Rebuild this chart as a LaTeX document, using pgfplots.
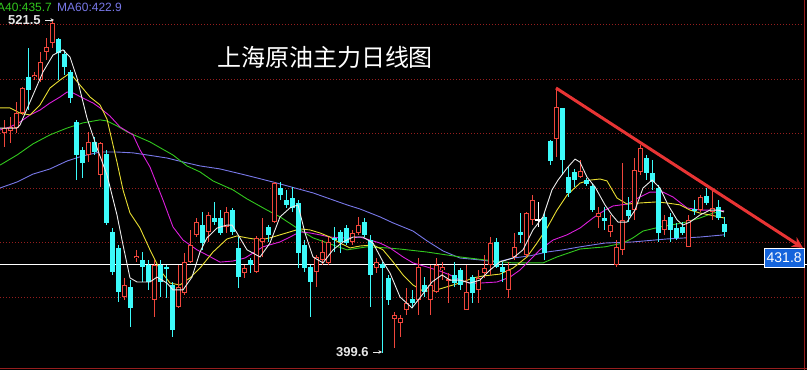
\documentclass[border=0pt]{standalone}
\usepackage{pgfplots}
\pgfplotsset{compat=1.18}
\usepackage{pgfplotstable}
\usetikzlibrary{arrows.meta}
\usepackage{fontspec}
\setmainfont{Liberation Sans}
\newfontfamily\cjk{Noto Sans CJK SC}
\definecolor{upred}{RGB}{240,70,60}
\definecolor{dncyan}{RGB}{60,250,250}
\definecolor{trendred}{RGB}{232,52,52}
\definecolor{mawhite}{RGB}{235,235,235}
\definecolor{mayellow}{RGB}{232,222,50}
\definecolor{mamag}{RGB}{220,30,220}
\definecolor{magreen}{RGB}{50,200,30}
\definecolor{mablue}{RGB}{120,120,232}
\definecolor{gridred}{RGB}{150,30,30}
\definecolor{boxblue}{RGB}{20,100,220}
\definecolor{lblgray}{RGB}{230,230,230}

% up (red, hollow) candles: index, open, high, low, close
\pgfplotstableread{
i o h l c
0 480.2 485.0 475.1 482.0
1 480.9 486.1 476.5 482.4
2 482.0 491.6 480.2 487.5
3 487.5 497.1 486.8 496.7
5 500.7 502.6 499.6 501.5
6 499.6 509.9 498.9 506.2
7 509.9 515.1 507.0 511.7
8 513.2 521.5 511.4 520.6
14 472.1 480.6 469.5 476.9
16 464.8 476.9 460.4 476.5
20 420.0 427.0 418.9 424.4
22 434.3 437.3 432.9 435.1
25 418.9 433.6 412.7 431.7
29 416.3 431.7 416.0 423.7
30 421.5 436.1 420.7 432.8
31 432.8 444.6 432.5 439.1
32 442.8 449.0 442.0 447.5
34 443.9 451.2 440.2 450.1
37 445.7 453.0 443.5 451.2
40 428.8 431.7 427.0 430.6
42 429.2 442.4 428.8 441.7
43 440.2 449.0 434.7 441.7
45 447.5 462.2 447.2 461.8
52 429.2 435.4 423.7 434.7
53 433.6 440.9 431.7 436.5
54 432.5 442.0 431.7 440.2
58 440.2 444.6 439.1 443.5
59 443.5 449.4 442.8 446.4
62 430.6 434.3 428.8 432.8
65 411.9 414.5 401.3 413.4
66 410.5 413.4 405.3 412.3
67 415.2 423.3 413.4 417.8
69 418.9 434.3 413.4 431.0
71 418.9 431.7 413.4 424.4
72 421.8 434.3 421.5 431.7
73 429.9 432.8 426.2 431.0
74 426.2 428.8 417.8 426.6
77 415.2 431.7 415.2 421.8
79 422.6 429.9 417.8 427.0
80 428.8 435.4 427.0 430.6
81 431.7 442.0 428.1 439.8
84 422.6 432.8 419.6 429.9
85 434.7 443.5 433.6 438.4
87 435.4 451.2 434.7 450.8
88 448.3 457.4 446.4 455.6
92 478.0 496.7 471.4 489.7
96 464.0 470.3 463.7 466.2
99 449.4 453.0 445.3 450.8
101 443.9 450.1 442.0 446.4
102 431.7 440.9 431.0 438.4
103 437.3 469.2 435.4 448.3
105 451.9 471.0 448.3 466.6
106 465.9 475.8 464.8 474.7
110 444.6 450.1 442.8 448.3
114 438.4 450.1 438.4 448.3
116 451.9 457.4 451.2 456.7
118 451.2 459.3 448.3 452.7
}\upcandles

% down (cyan, filled) candles
\pgfplotstableread{
i o h l c
4 500.7 511.4 488.6 496.0
9 514.7 515.1 499.6 509.5
10 509.2 510.7 501.5 504.4
11 502.6 503.3 491.2 493.0
12 484.2 485.0 462.9 472.1
13 474.0 475.1 463.7 469.2
15 476.9 478.7 472.1 473.2
17 472.5 474.0 446.4 447.2
18 443.9 445.3 428.1 429.2
19 438.0 439.1 418.2 421.8
21 423.7 426.2 409.0 416.0
23 433.6 436.5 425.5 431.0
24 431.7 433.6 422.6 425.5
26 431.7 433.6 420.0 425.5
27 431.0 431.7 419.6 430.3
28 424.4 425.5 405.3 407.9
33 446.4 451.2 437.3 439.8
35 449.0 454.9 446.4 447.5
36 449.0 451.9 442.8 443.5
38 451.9 452.7 442.8 443.9
39 438.0 442.0 423.3 427.3
41 433.6 434.3 428.8 431.7
44 445.7 446.4 440.2 442.8
46 460.0 462.2 455.6 457.4
47 455.6 459.3 452.7 453.8
48 456.3 460.4 451.2 452.7
49 454.5 455.6 430.6 436.1
50 439.1 440.9 429.2 430.6
51 431.0 431.7 412.7 425.5
55 441.7 445.7 436.5 440.9
56 443.9 444.6 436.1 440.2
57 445.3 446.4 439.1 439.8
60 447.5 449.0 442.0 442.8
61 440.9 442.8 416.3 428.1
63 432.1 432.8 399.6 430.6
64 427.0 428.1 417.1 418.9
68 419.3 422.6 416.0 417.8
70 424.4 427.3 420.0 421.8
75 428.1 432.8 423.7 425.1
76 429.9 430.6 422.6 424.4
78 427.3 428.1 417.8 421.5
82 440.2 441.7 430.6 431.0
83 431.0 432.8 425.5 429.2
86 443.9 450.8 439.8 442.8
90 449.4 450.8 433.6 436.1
91 477.3 477.6 468.4 469.9
93 489.4 489.4 464.8 470.3
94 464.0 467.7 456.7 458.2
95 465.9 467.0 460.4 462.9
97 462.9 463.7 460.7 461.5
98 460.7 461.5 451.2 451.9
100 449.0 453.0 444.6 447.9
104 451.9 456.7 447.5 449.7
107 471.0 472.1 462.9 465.5
108 465.5 470.3 459.3 462.2
109 460.0 461.1 440.2 443.5
111 449.4 450.8 440.2 444.6
112 445.3 447.2 440.9 441.7
113 445.7 447.5 442.8 443.5
115 452.3 455.6 450.1 451.6
117 457.1 460.0 453.8 454.5
119 453.0 455.6 448.3 449.0
120 446.8 449.4 442.0 443.9
}\dncandles

% doji
\pgfplotstableread{
i o h l c
89 448.3 454.9 445.7 448.3
}\dojicandles

\begin{document}
\begin{tikzpicture}
\useasboundingbox (0,0) rectangle (807pt,370pt);
\fill[black] (0,0) rectangle (807pt,370pt);
\begin{axis}[at={(0pt,0pt)}, anchor=south west, scale only axis,
  width=807pt, height=370pt,
  xmin=0, xmax=807, ymin=393.2, ymax=529.0,
  axis line style={draw=none}, xtick=\empty, ytick=\empty]

% dotted price grid
\pgfplotsinvokeforeach{420,440,460,480,500,520}{
  \addplot[gridred, line width=0.7pt, dash pattern=on 1pt off 2pt] coordinates {(0,#1) (804,#1)};
}

% white reference line
\addplot[white, line width=1pt] coordinates {(0,431.8) (807,431.8)};

% MA60
\addplot[mablue, line width=0.9pt] coordinates {(0,460.0)(17,462.2)(33,465.1)(50,467.0)(67,469.9)(83,471.8)(100,473.2)(117,473.2)(133,472.9)(153,471.8)(167,471.0)(187,469.2)(200,468.1)(220,467.0)(245,464.8)(273,462.2)(313,458.2)(347,453.8)(360,452.3)(380,449.4)(393,447.2)(413,444.2)(427,440.6)(443,436.9)(460,434.3)(480,433.6)(497,432.8)(513,434.3)(530,435.1)(547,436.5)(563,437.3)(580,438.4)(605,439.8)(633,440.2)(667,441.3)(700,442.0)(724,442.8)};
% MA40
\addplot[magreen, line width=0.9pt] coordinates {(0,468.4)(17,472.1)(33,476.2)(50,479.5)(67,482.0)(83,483.9)(100,485.0)(107,484.6)(117,482.8)(127,480.6)(150,476.9)(173,472.1)(187,468.1)(200,465.9)(213,462.6)(233,459.3)(247,456.0)(267,451.9)(280,449.4)(297,445.3)(313,441.7)(333,439.1)(347,437.3)(367,438.4)(387,438.0)(400,437.6)(427,436.5)(460,434.7)(485,433.6)(513,432.5)(543,432.5)(557,434.7)(580,437.6)(605,438.4)(623,439.8)(633,441.7)(643,444.2)(660,445.7)(683,447.2)(700,449.0)(713,450.8)(724,451.6)};
% MA20
\addplot[mamag, line width=0.9pt] coordinates {(0,481.3)(10,482.4)(20,484.2)(30,486.8)(40,488.6)(50,491.2)(60,493.4)(67,495.2)(73,494.9)(83,493.0)(93,491.2)(100,489.4)(110,486.4)(120,482.4)(133,479.5)(140,474.0)(150,467.7)(163,455.6)(173,445.7)(183,440.9)(197,437.3)(207,435.4)(220,432.8)(233,433.2)(245,434.3)(263,438.4)(280,440.2)(290,442.0)(300,443.9)(310,443.5)(320,442.8)(330,442.0)(340,441.7)(350,441.7)(360,442.0)(370,440.9)(380,439.8)(390,438.0)(403,434.7)(413,432.5)(427,431.0)(440,429.5)(450,428.1)(460,426.2)(470,425.1)(480,425.1)(497,425.5)(510,427.3)(520,429.9)(530,433.6)(540,437.3)(553,440.9)(567,442.8)(580,445.3)(593,449.0)(605,451.9)(613,453.4)(627,454.1)(640,456.7)(650,458.5)(663,458.5)(673,456.7)(687,452.7)(700,451.9)(713,451.9)(724,451.6)};
% MA10
\addplot[mayellow, line width=0.9pt] coordinates {(0,489.4)(10,489.4)(20,487.5)(30,486.8)(40,490.5)(50,496.7)(60,499.6)(70,502.2)(80,497.8)(90,493.4)(100,490.5)(107,485.3)(117,469.5)(123,459.3)(130,450.8)(140,445.3)(150,437.3)(160,429.9)(170,425.1)(180,424.4)(190,427.0)(200,430.6)(213,436.5)(227,441.3)(237,442.4)(247,441.7)(260,440.9)(270,441.7)(280,442.8)(290,443.9)(300,445.0)(310,444.6)(320,443.5)(330,442.0)(340,439.8)(350,438.0)(360,438.7)(373,439.1)(383,437.3)(393,432.9)(403,428.1)(413,424.4)(423,422.2)(433,422.2)(443,423.3)(453,424.4)(463,425.5)(473,427.0)(483,427.7)(500,428.4)(513,430.6)(527,434.7)(537,439.8)(547,445.3)(557,451.9)(567,457.4)(580,461.8)(590,462.9)(600,463.3)(607,462.6)(617,456.3)(627,454.1)(640,454.5)(657,454.9)(667,454.5)(680,453.8)(690,451.9)(700,450.8)(710,450.1)(724,449.0)};

% down candles: wicks and bodies
\addplot[draw=none, mark=none, error bars/.cd, y dir=both, y explicit, error mark=none,
  error bar style={draw=dncyan, line width=1pt}]
  table[x expr=4+6*\thisrow{i}, y expr=(\thisrow{h}+\thisrow{l})/2, y error expr=(\thisrow{h}-\thisrow{l})/2] {\dncandles};
\addplot[draw=none, mark=none, error bars/.cd, y dir=both, y explicit, error mark=none,
  error bar style={draw=dncyan, line width=5pt}]
  table[x expr=4+6*\thisrow{i}, y expr=(\thisrow{o}+\thisrow{c})/2, y error expr={max(abs(\thisrow{o}-\thisrow{c})/2,0.2)}] {\dncandles};

% up candles: wicks, outline, hollow inside
\addplot[draw=none, mark=none, error bars/.cd, y dir=both, y explicit, error mark=none,
  error bar style={draw=upred, line width=1pt}]
  table[x expr=4+6*\thisrow{i}, y expr=(\thisrow{h}+\thisrow{l})/2, y error expr=(\thisrow{h}-\thisrow{l})/2] {\upcandles};
\addplot[draw=none, mark=none, error bars/.cd, y dir=both, y explicit, error mark=none,
  error bar style={draw=upred, line width=5pt}]
  table[x expr=4+6*\thisrow{i}, y expr=(\thisrow{o}+\thisrow{c})/2, y error expr={max(abs(\thisrow{o}-\thisrow{c})/2,0.2)}] {\upcandles};
\addplot[draw=none, mark=none, error bars/.cd, y dir=both, y explicit, error mark=none,
  error bar style={draw=black, line width=3pt}]
  table[x expr=4+6*\thisrow{i}, y expr=(\thisrow{o}+\thisrow{c})/2, y error expr={max(abs(\thisrow{o}-\thisrow{c})/2-0.37,0)}] {\upcandles};

% doji
\addplot[draw=none, mark=none, error bars/.cd, y dir=both, y explicit, error mark=none,
  error bar style={draw=white, line width=1pt}]
  table[x expr=4+6*\thisrow{i}, y expr=(\thisrow{h}+\thisrow{l})/2, y error expr=(\thisrow{h}-\thisrow{l})/2] {\dojicandles};
\addplot[draw=none, mark=none, error bars/.cd, y dir=both, y explicit, error mark=none,
  error bar style={draw=white, line width=6pt}]
  table[x expr=4+6*\thisrow{i}, y expr=\thisrow{o}, y error expr=0.2] {\dojicandles};

% MA5 on top
\addplot[mawhite, line width=0.9pt] coordinates {(0,482.0)(17,482.0)(20,483.1)(33,494.1)(43,502.6)(53,508.8)(63,510.7)(70,508.1)(77,500.4)(87,485.7)(97,474.7)(107,464.8)(117,450.1)(123,439.1)(130,427.0)(137,425.5)(150,425.5)(157,427.3)(167,425.1)(173,422.6)(183,422.6)(192,427.3)(200,436.5)(207,441.7)(217,445.3)(227,446.4)(232,446.4)(237,443.5)(247,437.3)(260,434.7)(270,439.8)(280,449.4)(290,452.7)(298,453.8)(305,443.5)(313,434.7)(323,432.5)(333,437.3)(343,440.2)(353,442.0)(363,442.0)(373,439.8)(383,432.9)(390,428.8)(400,420.0)(412,416.0)(422,420.7)(432,425.5)(442,428.1)(450,426.2)(460,426.2)(470,425.1)(480,426.2)(490,429.9)(500,432.9)(513,434.3)(523,437.3)(533,444.6)(543,449.4)(552,459.3)(558,462.9)(567,467.3)(575,470.6)(580,469.5)(587,464.0)(595,460.4)(605,453.8)(612,450.1)(618,447.5)(627,447.5)(635,451.9)(643,460.0)(652,462.9)(660,460.0)(668,453.8)(677,448.3)(683,446.4)(690,447.5)(700,450.1)(710,451.9)(718,451.9)(724,451.2)};

% trend line
\addplot[trendred, line width=3pt, -{Stealth[length=11pt,width=11pt]}] coordinates {(556,496.7) (803,438.0)};
\end{axis}

% frame lines
\draw[gridred, line width=0.8pt] (804.5pt,0) -- (804.5pt,370pt);
\draw[gridred, line width=1pt] (0,1.5pt) -- (807pt,1.5pt);

% price box
\node[fill=boxblue, draw=white, line width=0.6pt, text=white, inner xsep=2.5pt, inner ysep=0pt,
  minimum height=19pt, anchor=south east, font=\fontsize{14}{14}\selectfont] at (804.5pt,102.5pt) {431.8};

% header
\node[anchor=west, inner sep=0pt, text=magreen, font=\fontsize{12}{12}\selectfont] at (-13pt,363pt) {MA40:435.7};
\node[anchor=west, inner sep=0pt, text=mablue, font=\fontsize{12}{12}\selectfont] at (57pt,363pt) {MA60:422.9};

% extreme labels
\node[anchor=west, inner sep=0pt, text=lblgray, font=\bfseries\fontsize{13}{13}\selectfont] at (8pt,349.5pt) {521.5};
\draw[lblgray, line width=0.7pt, -{Stealth[length=3.5pt,width=3.5pt]}] (45pt,350pt) -- (54pt,350pt);
\node[anchor=west, inner sep=0pt, text=lblgray, font=\bfseries\fontsize{13}{13}\selectfont] at (336pt,17.5pt) {399.6};
\draw[lblgray, line width=0.7pt, -{Stealth[length=3.5pt,width=3.5pt]}] (373pt,18pt) -- (382pt,18pt);

% title
\node[text=white, font=\cjk\fontsize{24}{24}\selectfont] at (325pt,313pt) {上海原油主力日线图};
\end{tikzpicture}
\end{document}
